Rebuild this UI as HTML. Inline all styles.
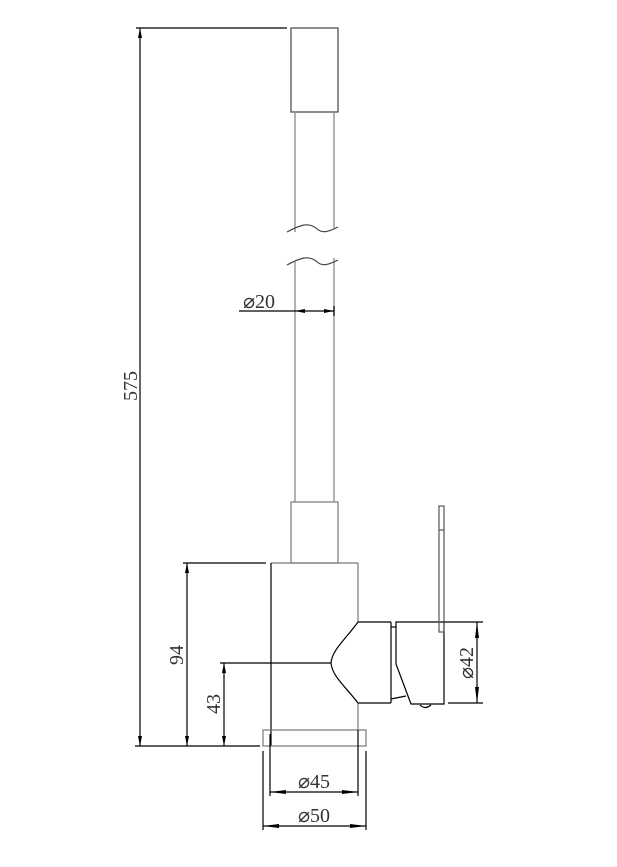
<!DOCTYPE html>
<html><head><meta charset="utf-8"><style>html,body{margin:0;padding:0;background:#fff}svg{display:block}</style></head>
<body>
<svg width="617" height="867" viewBox="0 0 617 867" xmlns="http://www.w3.org/2000/svg" font-family="Liberation Serif, serif" font-size="20">
<defs>
<marker id="a" viewBox="0 0 10 4" refX="10" refY="2" markerWidth="10" markerHeight="4" markerUnits="userSpaceOnUse" orient="auto-start-reverse"><path d="M0,0L10,2L0,4z" fill="#000"/></marker>
<marker id="b" viewBox="0 0 16 4" refX="16" refY="2" markerWidth="16" markerHeight="4" markerUnits="userSpaceOnUse" orient="auto-start-reverse"><path d="M0,0L16,2L0,4z" fill="#000"/></marker>
</defs>
<g fill="none" stroke="#000" stroke-width="1.2">
<rect x="291" y="28" width="47" height="84" stroke="#444"/>
<line x1="295" y1="112" x2="295" y2="232" stroke="#999" stroke-width="1.5"/>
<line x1="334" y1="112" x2="334" y2="228" stroke="#999" stroke-width="1.5"/>
<line x1="295" y1="262" x2="295" y2="502" stroke="#999" stroke-width="1.5"/>
<line x1="334" y1="258" x2="334" y2="502" stroke="#999" stroke-width="1.5"/>
<path d="M287,232 C300,225 308,222 316,228 C322,234 328,232 338,227" stroke="#444"/>
<path d="M287,265 C300,258 308,255 316,261 C322,267 328,265 338,260" stroke="#444"/>
<rect x="291" y="502" width="47" height="61" stroke="#777"/>
<line x1="271" y1="563" x2="358" y2="563" stroke="#777"/>
<line x1="271" y1="563" x2="271" y2="746"/>
<line x1="358" y1="563" x2="358" y2="622" stroke="#777"/>
<line x1="358" y1="703" x2="358" y2="730" stroke="#777"/>
<rect x="263" y="730" width="103" height="16" stroke="#777"/>
<line x1="358" y1="730" x2="358" y2="746"/>
<path d="M358,622 C345,640 332,650 331,663 C332,676 345,686 358,703"/>
<line x1="358" y1="622" x2="391" y2="622"/>
<line x1="358" y1="703" x2="391" y2="703"/>
<line x1="391" y1="622" x2="391" y2="703"/>
<line x1="391" y1="627" x2="396" y2="627"/>
<line x1="391" y1="699" x2="406" y2="696"/>
<path d="M396,664 L396,622 L444,622 L444,704 L411,704 L396,664"/>
<path d="M420,705 Q425,710 431,705" />
<rect x="439" y="506" width="5" height="126" stroke="#555"/>
<line x1="439" y1="530" x2="444" y2="530" stroke="#555"/>
<line x1="136" y1="28" x2="287" y2="28"/>
<line x1="135" y1="746" x2="260" y2="746"/>
<line x1="140" y1="28" x2="140" y2="746" marker-start="url(#a)" marker-end="url(#a)"/>
<line x1="183" y1="563" x2="266" y2="563"/>
<line x1="187" y1="563" x2="187" y2="746" marker-start="url(#a)" marker-end="url(#a)"/>
<line x1="220" y1="663" x2="331" y2="663"/>
<line x1="224" y1="663" x2="224" y2="746" marker-start="url(#a)" marker-end="url(#a)"/>
<line x1="239" y1="311" x2="295" y2="311"/>
<line x1="295" y1="311" x2="334" y2="311" marker-start="url(#a)" marker-end="url(#a)"/>
<line x1="334" y1="306" x2="334" y2="316"/>
<line x1="444" y1="622" x2="483" y2="622"/>
<line x1="448" y1="703" x2="483" y2="703"/>
<line x1="477" y1="622" x2="477" y2="703" marker-start="url(#b)" marker-end="url(#b)"/>
<line x1="270" y1="734" x2="270" y2="796"/>
<line x1="358" y1="746" x2="358" y2="796"/>
<line x1="270" y1="792" x2="358" y2="792" marker-start="url(#b)" marker-end="url(#b)"/>
<line x1="263" y1="751" x2="263" y2="830"/>
<line x1="366" y1="751" x2="366" y2="830"/>
<line x1="263" y1="826" x2="366" y2="826" marker-start="url(#b)" marker-end="url(#b)"/>
</g>
<g fill="#333">
<text x="243" y="308">⌀20</text>
<text x="0" y="0" transform="translate(137,386) rotate(-90)" text-anchor="middle">575</text>
<text x="0" y="0" transform="translate(183,655) rotate(-90)" text-anchor="middle">94</text>
<text x="0" y="0" transform="translate(220,704) rotate(-90)" text-anchor="middle">43</text>
<text x="0" y="0" transform="translate(473,663) rotate(-90)" text-anchor="middle">⌀42</text>
<text x="314" y="788" text-anchor="middle">⌀45</text>
<text x="314" y="822" text-anchor="middle">⌀50</text>
</g>
</svg>
</body></html>
